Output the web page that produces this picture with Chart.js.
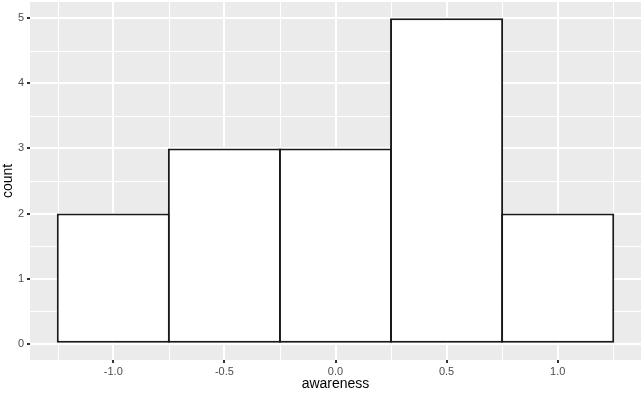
<!DOCTYPE html>
<html>
<head>
<meta charset="utf-8">
<script src="https://cdn.jsdelivr.net/npm/chart.js@4/dist/chart.umd.min.js"></script>
<style>
  html, body { margin: 0; padding: 0; background: #fff; }
  #wrap { width: 644px; height: 393px; }
</style>
</head>
<body>
<div id="wrap"><canvas id="histChart"></canvas></div>
<script>
// histogram bins (centre of each bin) and counts
const binCenters = [-1.0, -0.5, 0.0, 0.5, 1.0];
const counts = [2, 3, 3, 5, 2];

// labelled ticks, plus minor grid lines halfway between them
const xMajor = [-1.0, -0.5, 0.0, 0.5, 1.0];
const xMinor = [-1.25, -0.75, -0.25, 0.25, 0.75, 1.25];
const yMajor = [0, 1, 2, 3, 4, 5];
const yMinor = [0.5, 1.5, 2.5, 3.5, 4.5];

const xTickLabels = ['-1.0', '-0.5', '0.0', '0.5', '1.0'];
const yTickLabels = ['0', '1', '2', '3', '4', '5'];

// grey panel behind everything
const panelBg = {
    id: 'panelBg',
    beforeDraw(chart) {
        const { ctx, chartArea: a } = chart;
        ctx.save();
        ctx.fillStyle = '#EBEBEB';
        ctx.fillRect(a.left, a.top, a.right - a.left, a.bottom - a.top);
        ctx.restore();
    }
};

// thin white minor grid lines, drawn before the bars
const minorGrid = {
    id: 'minorGrid',
    beforeDatasetsDraw(chart) {
        const { ctx, chartArea: a, scales } = chart;
        ctx.save();
        ctx.strokeStyle = '#FFFFFF';
        ctx.lineWidth = 1;
        ctx.beginPath();
        xMinor.forEach(v => {
            const px = Math.round(scales.x.getPixelForValue(v)) + 0.5;
            ctx.moveTo(px, a.top);
            ctx.lineTo(px, a.bottom);
        });
        yMinor.forEach(v => {
            const py = Math.round(scales.y.getPixelForValue(v)) + 0.5;
            ctx.moveTo(a.left, py);
            ctx.lineTo(a.right, py);
        });
        ctx.stroke();
        ctx.restore();
    }
};

const tickFont = { family: '"Liberation Sans", Arial, sans-serif', size: 11 };
const titleFont = { family: '"Liberation Sans", Arial, sans-serif', size: 14 };

const ctx = document.getElementById('histChart').getContext('2d');
new Chart(ctx, {
    type: 'bar',
    data: {
        datasets: [{
            data: binCenters.map((x, i) => ({ x: x, y: counts[i] })),
            backgroundColor: '#FFFFFF',
            borderColor: '#1A1A1A',
            borderWidth: 2,
            borderSkipped: false,
            // slight overlap so neighbouring bars share one outline
            barPercentage: 1.018,
            categoryPercentage: 1.0
        }]
    },
    options: {
        responsive: true,
        maintainAspectRatio: false,
        animation: false,
        layout: { padding: { top: 2, right: 3, left: 0, bottom: 0 } },
        plugins: {
            legend: { display: false },
            tooltip: { enabled: false }
        },
        scales: {
            x: {
                type: 'linear',
                min: -1.375,
                max: 1.375,
                offset: false,
                afterBuildTicks: s => { s.ticks = xMajor.map(v => ({ value: v })); },
                afterFit: s => { s.height = 33; },
                border: { display: false },
                grid: {
                    offset: false,
                    color: '#FFFFFF',
                    lineWidth: 2,
                    tickColor: '#333333',
                    tickLength: 3
                },
                ticks: {
                    autoSkip: false,
                    maxRotation: 0,
                    padding: 2,
                    color: '#4D4D4D',
                    font: tickFont,
                    callback: (v, i) => xTickLabels[i]
                },
                title: {
                    display: true,
                    text: 'awareness',
                    color: '#000000',
                    font: titleFont,
                    padding: { top: 1, bottom: 0 }
                }
            },
            y: {
                min: -0.25,
                max: 5.25,
                afterBuildTicks: s => { s.ticks = yMajor.map(v => ({ value: v })); },
                afterFit: s => {
                    s.width = 30;
                    s.paddingTop = 0;
                    s.paddingBottom = 0;
                },
                border: { display: false },
                grid: {
                    color: '#FFFFFF',
                    lineWidth: 2,
                    tickColor: '#333333',
                    tickLength: 3
                },
                ticks: {
                    autoSkip: false,
                    padding: 3,
                    color: '#4D4D4D',
                    font: tickFont,
                    callback: (v, i) => yTickLabels[i]
                },
                title: {
                    display: true,
                    text: 'count',
                    color: '#000000',
                    font: titleFont,
                    padding: { top: 0, bottom: 0 }
                }
            }
        }
    },
    plugins: [panelBg, minorGrid]
});
</script>
</body>
</html>
